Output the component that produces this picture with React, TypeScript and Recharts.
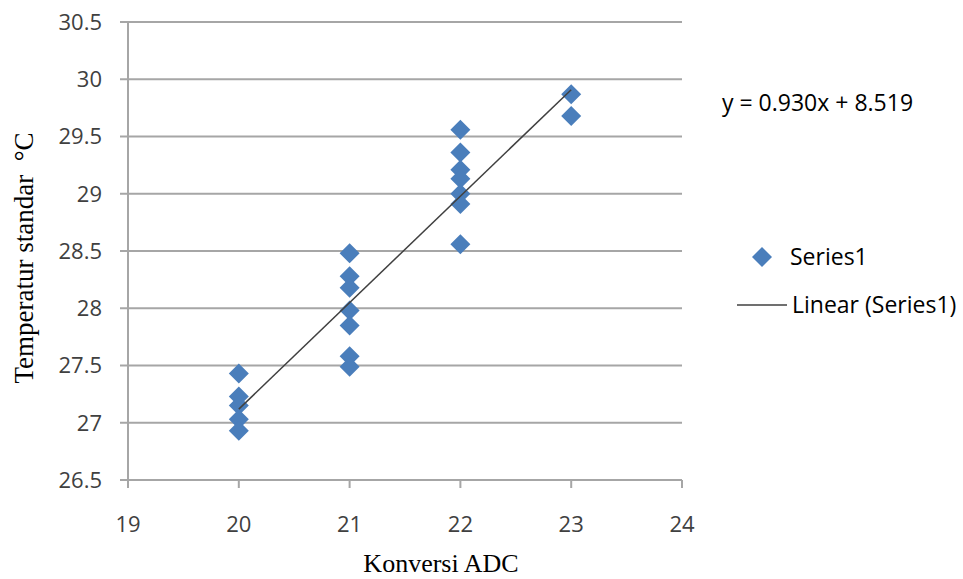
import React from 'react';
import { ScatterChart, Scatter, XAxis, YAxis, CartesianGrid, Label } from 'recharts';

// readings per ADC value
const adc20 = [27.43, 27.23, 27.15, 27.03, 26.93];
const adc21 = [28.48, 28.28, 28.18, 27.98, 27.85, 27.58, 27.49];
const adc22 = [29.56, 29.36, 29.21, 29.13, 29.0, 28.91, 28.56];
const adc23 = [29.87, 29.68];

const xTicks = [19, 20, 21, 22, 23, 24];
const yTicks = [26.5, 27, 27.5, 28, 28.5, 29, 29.5, 30, 30.5];

const slope = 0.93;
const intercept = 8.519;
const trendRange = [20, 23];

const toPoints = (x: number, ys: number[]) => ys.map((y) => ({ x, y }));
const points = [
  ...toPoints(20, adc20),
  ...toPoints(21, adc21),
  ...toPoints(22, adc22),
  ...toPoints(23, adc23),
];
const trend = trendRange.map((x) => ({ x, y: slope * x + intercept }));

const BLUE = '#4a7ebb';
const GRID = '#a6a6a6';
const tickFont = { fill: '#404040', fontSize: 22, fontFamily: 'Open Sans' };
const serif = { fontFamily: 'Liberation Serif', fill: '#000' };

const Diamond = (props: any) => {
  const { cx, cy } = props;
  const r = 10;
  return <polygon points={`${cx},${cy - r} ${cx + r},${cy} ${cx},${cy + r} ${cx - r},${cy}`} fill={BLUE} />;
};

export default function App() {
  return (
    <div style={{ position: 'absolute', left: 0, top: 0, width: 963, height: 579, background: '#fff' }}>
      <ScatterChart width={963} height={579} margin={{ top: 22, right: 281, bottom: 0, left: 0 }}>
        <CartesianGrid horizontal vertical={false} stroke={GRID} strokeWidth={2} />
        <XAxis
          type="number"
          dataKey="x"
          domain={[19, 24]}
          ticks={xTicks}
          allowDataOverflow
          stroke={GRID}
          strokeWidth={2}
          tickSize={8}
          tickMargin={28}
          tick={tickFont}
          height={99}
        >
          <Label
            content={() => (
              <text x={441} y={572} textAnchor="middle" style={{ ...serif, fontSize: 26 }}>
                Konversi ADC
              </text>
            )}
          />
        </XAxis>
        <YAxis
          type="number"
          dataKey="y"
          domain={[26.5, 30.5]}
          ticks={yTicks}
          allowDataOverflow
          stroke={GRID}
          strokeWidth={2}
          tickSize={8}
          tickMargin={18}
          tick={tickFont}
          width={128}
        >
          <Label
            content={() => (
              <text
                x={24}
                y={258}
                transform="rotate(-90 24 258)"
                textAnchor="middle"
                dominantBaseline="central"
                style={{ ...serif, fontSize: 27, whiteSpace: 'pre' }}
              >
                {'Temperatur standar  °C'}
              </text>
            )}
          />
        </YAxis>
        <Scatter data={points} shape={Diamond} isAnimationActive={false} />
        <Scatter
          data={trend}
          line={{ stroke: '#404040', strokeWidth: 1.5 }}
          shape={() => null}
          isAnimationActive={false}
        />
      </ScatterChart>
      <div style={{ position: 'absolute', left: 722, top: 86, fontFamily: 'Open Sans', fontSize: 23, color: '#000' }}>
        y = 0.930x + 8.519
      </div>
      <svg style={{ position: 'absolute', left: 730, top: 240 }} width={233} height={80}>
        <polygon points="32,7 42,17 32,27 22,17" fill={BLUE} />
        <text x={60} y={25} fontFamily="Open Sans" fontSize={23} fill="#000">Series1</text>
        <line x1={7} y1={65} x2={57} y2={65} stroke="#404040" strokeWidth={1.5} />
        <text x={62} y={73} fontFamily="Open Sans" fontSize={23} fill="#000">Linear (Series1)</text>
      </svg>
    </div>
  );
}
